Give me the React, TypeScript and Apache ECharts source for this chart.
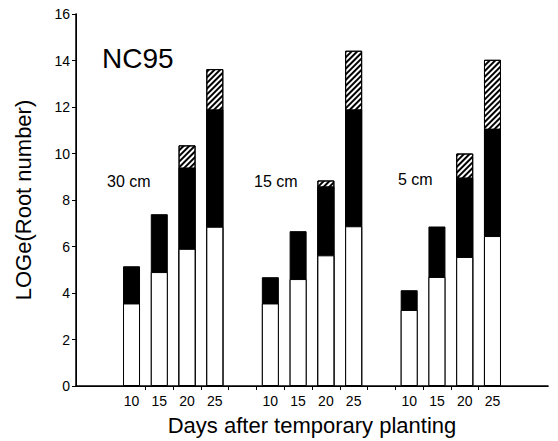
import React, { useEffect, useRef } from "react";
import * as echarts from "echarts";

// slot positions of bars along the x axis (slot units)
const barSlots = [2, 3, 4, 5, 7, 8, 9, 10, 12, 13, 14, 15];
const dayLabels = ["10", "15", "20", "25", "10", "15", "20", "25", "10", "15", "20", "25"];
const groupNames = ["30 cm", "15 cm", "5 cm"];
// cumulative levels (LOGe root number): top of white, top of black, top of hatched part
const whiteTop = [3.55, 4.9, 5.9, 6.85, 3.55, 4.6, 5.62, 6.87, 3.27, 4.69, 5.55, 6.45];
const blackTop = [5.15, 7.39, 9.4, 11.9, 4.68, 6.66, 8.59, 11.9, 4.12, 6.86, 8.97, 11.07];
const hatchTop: (number | null)[] = [null, null, 10.35, 13.63, null, null, 8.84, 14.42, null, null, 10.0, 14.03];
const tickSlots = [2.5, 3.5, 4.5, 5.5, 6.5, 7.5, 8.5, 9.5, 10.5, 11.5, 12.5, 13.5, 14.5];

const FONT = "'Liberation Sans', Arial, Helvetica, sans-serif";

export default function App() {
  const ref = useRef<HTMLDivElement>(null);
  useEffect(() => {
    if (!ref.current) return;
    const chart = echarts.init(ref.current, null, { renderer: "svg" });
    const labelMap: Record<number, string> = {};
    barSlots.forEach((s, i) => (labelMap[s] = dayLabels[i]));
    const mk = (arr: (number | null)[]) => arr.map((v, i) => [barSlots[i], v == null ? "-" : v]);
    const common = { type: "bar", barWidth: 17, barGap: "-100%", silent: true };
    chart.setOption({
      animation: false,
      grid: { left: 76, right: 10, top: 14, bottom: 53 },
      xAxis: [
        {
          type: "value",
          min: 0,
          max: 17,
          interval: 1,
          splitLine: { show: false },
          axisLine: { show: true, lineStyle: { color: "#000", width: 1.5 } },
          axisTick: { show: true, customValues: tickSlots, length: 4, lineStyle: { color: "#000" } },
          axisLabel: {
            customValues: barSlots,
            formatter: (v: number) => labelMap[v] ?? "",
            color: "#000",
            fontFamily: FONT,
            fontSize: 14,
            margin: 8,
          },
          name: "Days after temporary planting",
          nameLocation: "middle",
          nameGap: 28,
          nameTextStyle: { color: "#000", fontFamily: FONT, fontSize: 22 },
        },
        {
          type: "value",
          position: "top",
          min: 0,
          max: 17,
          axisLine: { show: true, lineStyle: { color: "#000", width: 1 } },
          axisTick: { show: false },
          axisLabel: { show: false },
          splitLine: { show: false },
        },
      ],
      yAxis: [
        {
          type: "value",
          min: 0,
          max: 16,
          interval: 2,
          splitLine: { show: false },
          axisLine: { show: true, lineStyle: { color: "#000", width: 1 } },
          axisTick: { show: true, length: 4, lineStyle: { color: "#000" } },
          axisLabel: { color: "#000", fontFamily: FONT, fontSize: 14, margin: 6 },
          name: "LOGe(Root number)",
          nameLocation: "middle",
          nameGap: 42,
          nameTextStyle: { color: "#000", fontFamily: FONT, fontSize: 22 },
        },
        {
          type: "value",
          position: "right",
          min: 0,
          max: 16,
          axisLine: { show: true, lineStyle: { color: "#000", width: 1.5 } },
          axisTick: { show: false },
          axisLabel: { show: false },
          splitLine: { show: false },
        },
      ],
      series: [
        {
          ...common,
          name: "hatch",
          data: mk(hatchTop),
          itemStyle: {
            color: "#fff",
            borderColor: "#000",
            borderWidth: 1,
            decal: {
              symbol: "rect",
              color: "#000",
              dashArrayX: [1, 0],
              dashArrayY: [1.4, 1.6],
              rotation: -Math.PI / 4,
              symbolSize: 1,
            },
          },
        },
        {
          ...common,
          name: "black",
          data: mk(blackTop),
          itemStyle: { color: "#000", borderColor: "#000", borderWidth: 1 },
        },
        {
          ...common,
          name: "white",
          data: mk(whiteTop),
          itemStyle: { color: "#fff", borderColor: "#000", borderWidth: 1 },
        },
      ],
      graphic: [
        { type: "text", left: 102, top: 44, style: { text: "NC95", font: `28px ${FONT}`, fill: "#000" } },
        { type: "text", left: 107, top: 173, style: { text: groupNames[0], font: `16px ${FONT}`, fill: "#000" } },
        { type: "text", left: 254, top: 173, style: { text: groupNames[1], font: `16px ${FONT}`, fill: "#000" } },
        { type: "text", left: 398, top: 171, style: { text: groupNames[2], font: `16px ${FONT}`, fill: "#000" } },
      ],
    });
    return () => chart.dispose();
  }, []);
  return <div ref={ref} style={{ width: 558, height: 441, position: "absolute", left: 0, top: 0, background: "#fff" }} />;
}
